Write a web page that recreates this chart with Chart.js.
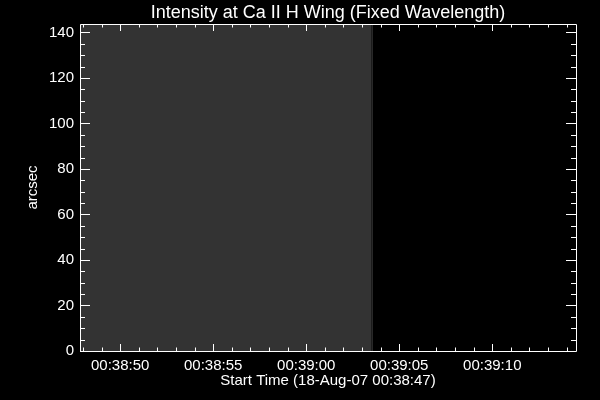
<!DOCTYPE html>
<html>
<head>
<meta charset="utf-8">
<script src="https://cdn.jsdelivr.net/npm/chart.js@4.4.1/dist/chart.umd.min.js"></script>
<style>
    html, body { margin: 0; padding: 0; background: #000; }
    #wrap { width: 600px; height: 400px; }
</style>
</head>
<body>
<div id="wrap"><canvas id="intensityChart"></canvas></div>
<script>
// ===========================
// Data (times in seconds of day, 00:38:00 = 2280)
// ===========================
const chartTitle = "Intensity at Ca II H Wing (Fixed Wavelength)";
const xTitle = "Start Time (18-Aug-07 00:38:47)";
const yTitle = "arcsec";

const xRange = [2327.84, 2354.5];          // 00:38:47.84 -> 00:39:14.50
const yRange = [0, 143.7];                  // arcsec
const xTickValues = [2330, 2335, 2340, 2345, 2350];
const yTickValues = [0, 20, 40, 60, 80, 100, 120, 140];

// image columns: start time, end time, grey level
const scanStart = [2327.84, 2343.52];
const scanEnd = [2343.52, 2343.58];
const scanLevel = ["#333333", "#3a3a3a"];

function formatTime(v) {
    const s = Math.round(v);
    const hh = String(Math.floor(s / 3600)).padStart(2, "0");
    const mm = String(Math.floor((s % 3600) / 60)).padStart(2, "0");
    const ss = String(s % 60).padStart(2, "0");
    return hh + ":" + mm + ":" + ss;
}

// ===========================
// IDL style frame + inward ticks
// ===========================
const idlFrame = {
    id: "idlFrame",
    beforeDraw(chart) {
        const ctx = chart.ctx;
        ctx.save();
        ctx.fillStyle = "#000";
        ctx.fillRect(0, 0, chart.width, chart.height);
        ctx.restore();
    },
    afterDatasetsDraw(chart) {
        const { ctx, chartArea: a, scales: { x, y } } = chart;
        ctx.save();
        ctx.strokeStyle = "#fff";
        ctx.lineWidth = 1;
        ctx.beginPath();
        ctx.rect(a.left + 0.5, a.top + 0.5, a.right - a.left, a.bottom - a.top);

        // x ticks, major every 5 s, minor every 1 s
        for (let t = Math.ceil(xRange[0]); t <= xRange[1]; t++) {
            const px = Math.round(x.getPixelForValue(t)) + 0.5;
            const len = (t % 5 === 0) ? 7 : 3.5;
            ctx.moveTo(px, a.bottom);
            ctx.lineTo(px, a.bottom - len);
            ctx.moveTo(px, a.top);
            ctx.lineTo(px, a.top + len);
        }
        // y ticks, major every 20, minor every 5
        for (let v = 0; v <= yRange[1]; v += 5) {
            const py = Math.round(y.getPixelForValue(v)) + 0.5;
            const len = (v % 20 === 0) ? 10 : 5;
            ctx.moveTo(a.left, py);
            ctx.lineTo(a.left + len, py);
            ctx.moveTo(a.right, py);
            ctx.lineTo(a.right - len, py);
        }
        ctx.stroke();
        ctx.restore();
    }
};

const fontFamily = "'Liberation Sans', Arial, sans-serif";

const datasets = scanStart.map(function (start, i) {
    return {
        data: [{ x: start, y: yRange[1] }, { x: scanEnd[i], y: yRange[1] }],
        backgroundColor: scanLevel[i],
        borderWidth: 0,
        pointRadius: 0,
        fill: "origin"
    };
});

new Chart(document.getElementById("intensityChart"), {
    type: "line",
    data: { datasets: datasets },
    options: {
        responsive: true,
        maintainAspectRatio: false,
        animation: false,
        layout: { padding: { left: 0, right: 24, top: 0, bottom: 0 } },
        plugins: {
            legend: { display: false },
            tooltip: { enabled: false },
            title: {
                display: true,
                text: chartTitle,
                fullSize: false,
                color: "#fff",
                font: { family: fontFamily, size: 18, weight: "normal", lineHeight: 1.1 },
                padding: { top: 3, bottom: 1.2 }
            }
        },
        scales: {
            x: {
                type: "linear",
                min: xRange[0],
                max: xRange[1],
                grid: { display: false, drawTicks: false },
                border: { display: false },
                afterBuildTicks: function (scale) {
                    scale.ticks = xTickValues.map(function (v) { return { value: v }; });
                },
                afterFit: function (scale) { scale.height = 49; },
                ticks: {
                    color: "#fff",
                    padding: 6,
                    maxRotation: 0,
                    font: { family: fontFamily, size: 15 },
                    callback: function (v) { return formatTime(v); }
                },
                title: {
                    display: true,
                    text: xTitle,
                    color: "#fff",
                    font: { family: fontFamily, size: 15 },
                    padding: { top: 0, bottom: 10 }
                }
            },
            y: {
                min: yRange[0],
                max: yRange[1],
                grid: { display: false, drawTicks: false },
                border: { display: false },
                afterBuildTicks: function (scale) {
                    scale.ticks = yTickValues.map(function (v) { return { value: v }; });
                },
                afterFit: function (scale) { scale.width = 80; },
                ticks: {
                    color: "#fff",
                    padding: 6,
                    font: { family: fontFamily, size: 15 }
                },
                title: {
                    display: true,
                    text: yTitle,
                    color: "#fff",
                    font: { family: fontFamily, size: 15 },
                    padding: { top: 24, bottom: 0 }
                }
            }
        }
    },
    plugins: [idlFrame]
});
</script>
</body>
</html>
